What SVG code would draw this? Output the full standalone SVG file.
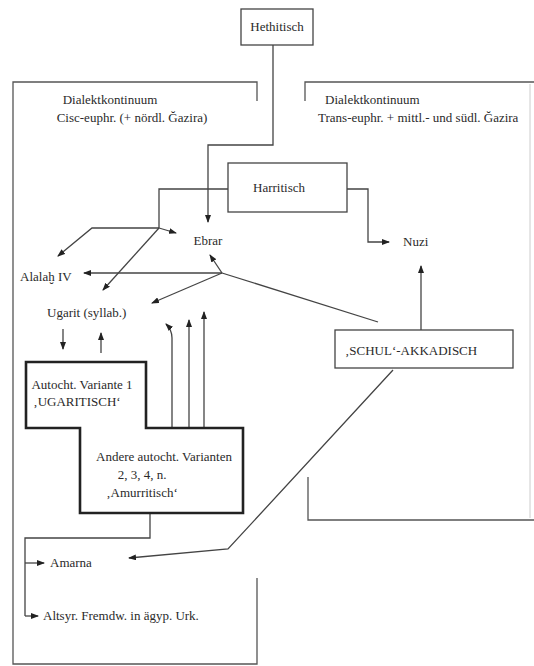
<svg xmlns="http://www.w3.org/2000/svg" width="534" height="666" viewBox="0 0 534 666">
<defs>
<marker id="ah" markerWidth="8" markerHeight="6" refX="7" refY="3" orient="auto" markerUnits="userSpaceOnUse">
<path d="M0,0 L8,3 L0,6 z" fill="#222"/>
</marker>
<style>
.t{font-family:"Liberation Serif","Times New Roman",serif;font-size:13px;fill:#2a2a2a}
.ln{fill:none;stroke:#444;stroke-width:1.3}
.reg{fill:none;stroke:#555;stroke-width:1.3}
.box{fill:#fff;stroke:#444;stroke-width:1.3}
.thick{fill:#fff;stroke:#222;stroke-width:2.6}
.c{fill:none;stroke:#444;stroke-width:1.3;marker-end:url(#ah)}
</style>
</defs>
<rect width="534" height="666" fill="#fff"/>

<g id="region-cis">
<path class="reg" d="M257,101 V82 H13 V664 H257 V578"/>
<text class="t" x="110" y="104" text-anchor="middle">Dialektkontinuum</text>
<text class="t" x="132" y="122" text-anchor="middle">Cisc-euphr. (+ nördl. Ğazira)</text>
</g>
<g id="region-trans">
<path class="reg" d="M305,101 V82 H534"/>
<path d="M530,84 V518" fill="none" stroke="#ccc" stroke-width="1"/>
<path class="reg" d="M308,477 V520 H534"/>
<text class="t" x="325" y="104">Dialektkontinuum</text>
<text class="t" x="318" y="122">Trans-euphr. + mittl.- und südl. Ğazira</text>
</g>

<g id="connectors">
<path class="c" d="M273,45 V145 H208 V222"/>
<path class="ln" d="M228,189 H159 V228"/>
<path class="c" d="M159,228 H92 L58,256"/>
<path class="c" d="M159,228 L176,233"/>
<path class="c" d="M159,228 L103,290"/>
<path class="c" d="M347,189 H368 V242 H389"/>
<path class="ln" d="M378,322 L222,273"/>
<path class="c" d="M222,273 H84"/>
<path class="c" d="M222,273 L210,255"/>
<path class="c" d="M222,273 L152,303"/>
<path class="c" d="M421,330 V266"/>
<path class="c" d="M393,370 L228,549 L129,558"/>
<path class="c" d="M172,428 V338 Q172,330 166,324"/>
<path class="c" d="M189,428 V320"/>
<path class="c" d="M204,428 V312"/>
<path class="c" d="M63,329 V349"/>
<path class="c" d="M101,353 V333"/>
<path class="ln" d="M150,513 V538 H25 V616"/>
<path class="c" d="M25,616 H38"/>
<path class="c" d="M25,563 H44"/>
</g>

<g id="hethitisch">
<rect class="box" x="241" y="9" width="72" height="36"/>
<text class="t" x="277" y="31" text-anchor="middle">Hethitisch</text>
</g>
<g id="harritisch">
<rect class="box" x="228" y="163" width="119" height="49"/>
<text class="t" x="279" y="192" text-anchor="middle">Harritisch</text>
</g>
<g id="ebrar"><text class="t" x="208" y="245" text-anchor="middle">Ebrar</text></g>
<g id="nuzi"><text class="t" x="403" y="246">Nuzi</text></g>
<g id="alalah"><text class="t" x="20" y="281">Alalaḫ IV</text></g>
<g id="ugarit"><text class="t" x="47" y="317">Ugarit (syllab.)</text></g>
<g id="schul">
<rect class="box" x="335" y="330" width="178" height="38"/>
<text class="t" x="345" y="355">‚SCHUL‘-AKKADISCH</text>
</g>
<g id="varianten">
<path class="thick" d="M26,362 H146 V428 H243 V513 H80 V428 H26 Z"/>
<text class="t" x="82" y="389" text-anchor="middle">Autocht. Variante 1</text>
<text class="t" x="77" y="406" text-anchor="middle">‚UGARITISCH‘</text>
<text class="t" x="164" y="461" text-anchor="middle">Andere autocht. Varianten</text>
<text class="t" x="142" y="479" text-anchor="middle">2, 3, 4, n.</text>
<text class="t" x="142" y="497" text-anchor="middle">‚Amurritisch‘</text>
</g>
<g id="amarna"><text class="t" x="50" y="567">Amarna</text></g>
<g id="altsyr"><text class="t" x="43" y="620">Altsyr. Fremdw. in ägyp. Urk.</text></g>
</svg>
